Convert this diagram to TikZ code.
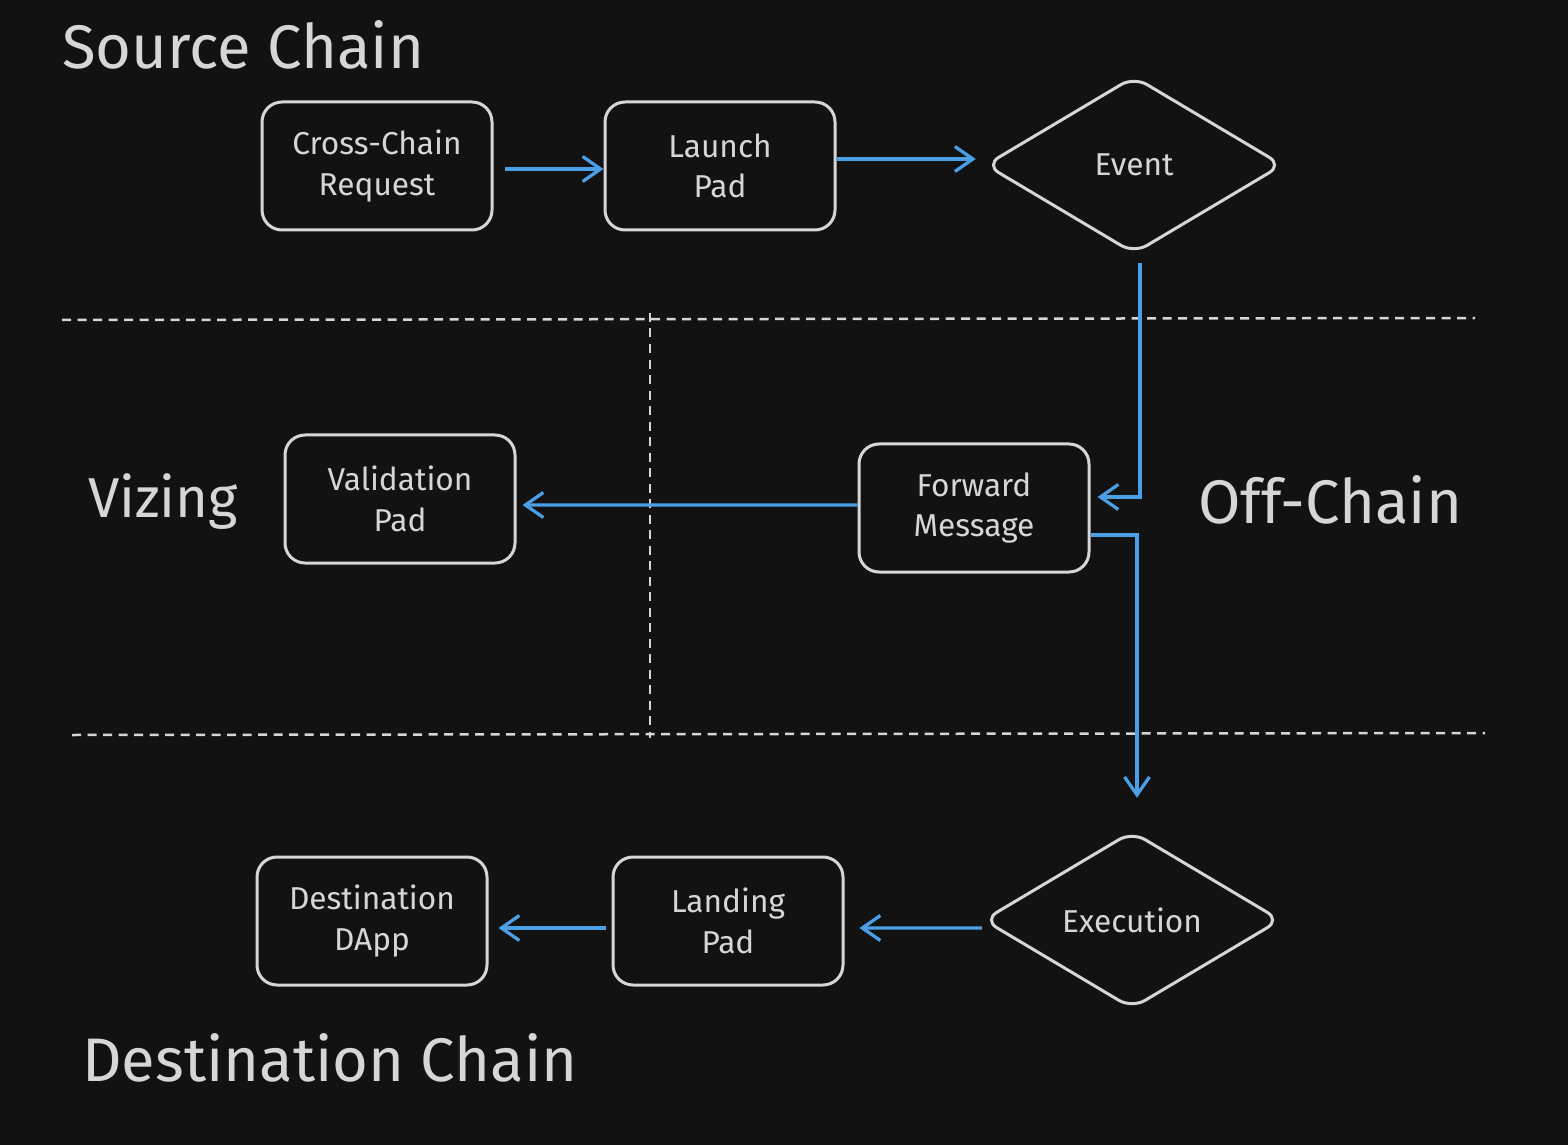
\documentclass[tikz,border=0pt]{standalone}
\usepackage{fontspec}
\setmainfont{Fira Sans}
\usetikzlibrary{shapes.geometric,arrows.meta}
\definecolor{bgc}{HTML}{121212}
\definecolor{ink}{HTML}{D6D6D6}
\definecolor{flowc}{HTML}{4A9FE6}
\begin{document}
\begin{tikzpicture}[x=0.2mm, y=-0.2mm,
  box/.style={draw=ink, line width=0.6mm, rounded corners=4mm, text=ink, fill=bgc,
    minimum width=46mm, minimum height=25.6mm, align=center, font=\fontsize{18}{23}\selectfont},
  rhomb/.style={diamond, draw=ink, line width=0.6mm, rounded corners=3mm, text=ink,
    minimum width=59.5mm, minimum height=35.5mm, inner sep=0pt, font=\fontsize{18}{23}\selectfont},
  flow/.style={draw=flowc, line width=0.65mm, -{Straight Barb[length=3.6mm,width=5mm,line width=0.65mm]}},
  sep/.style={draw=ink, line width=0.5mm, dash pattern=on 1.8mm off 1.3mm},
  title/.style={text=ink, font=\fontsize{35}{40}\selectfont}]

\fill[bgc] (0,0) rectangle (1568,1145);

% lanes
\draw[sep] (62,320) -- (1475,318);
\draw[sep] (72,735) -- (1485,733);
\draw[sep] (650,313) -- (650,738);

\node[title, anchor=west] (srclbl) at (56,45) {Source Chain};
\node[title, anchor=west, font=\fontsize{32}{36}\selectfont] (vizlbl) at (82,502) {Vizing};
\node[title, anchor=west] (offlbl) at (1192,500) {Off-Chain};
\node[title, anchor=west] (dstlbl) at (76,1058) {Destination Chain};

% source chain
\node[box] (ccreq) at (377,166) {Cross-Chain\\Request};
\node[box] (launch) at (720,166) {Launch\\Pad};
\node[rhomb] (event) at (1134,165) {Event};

% vizing / off-chain
\node[box] (valid) at (400,499) {Validation\\Pad};
\node[box] (fwd) at (974,508) {Forward\\Message};

% destination chain
\node[rhomb] (exec) at (1132,920) {Execution};
\node[box] (landing) at (728,921) {Landing\\Pad};
\node[box] (dapp) at (372,921) {Destination\\DApp};

\draw[flow, shorten <=2.2mm] ([yshift=-0.6mm]ccreq.east) -- ([yshift=-0.6mm]launch.west);
\draw[flow, shorten >=1.6mm] ([yshift=1.4mm]launch.east) -- ([yshift=1.2mm]event.west);
\draw[flow, shorten <=1.6mm, shorten >=1.4mm] ([xshift=1.2mm]event.south) |- ([yshift=2.2mm]fwd.east);
\draw[flow, shorten >=1.2mm] ([yshift=0.6mm]fwd.west) -- ([yshift=-1.2mm]valid.east);
\draw[flow, shorten >=6.4mm] ([yshift=-5.4mm]fwd.east) -| ([xshift=1mm]exec.north);
\draw[flow, shorten >=3mm] ([yshift=-1.6mm]exec.west) -- ([yshift=-1.4mm]landing.east);
\draw[flow, shorten <=1.2mm, shorten >=2mm] ([yshift=-1.4mm]landing.west) -- ([yshift=-1.4mm]dapp.east);

\end{tikzpicture}
\end{document}
